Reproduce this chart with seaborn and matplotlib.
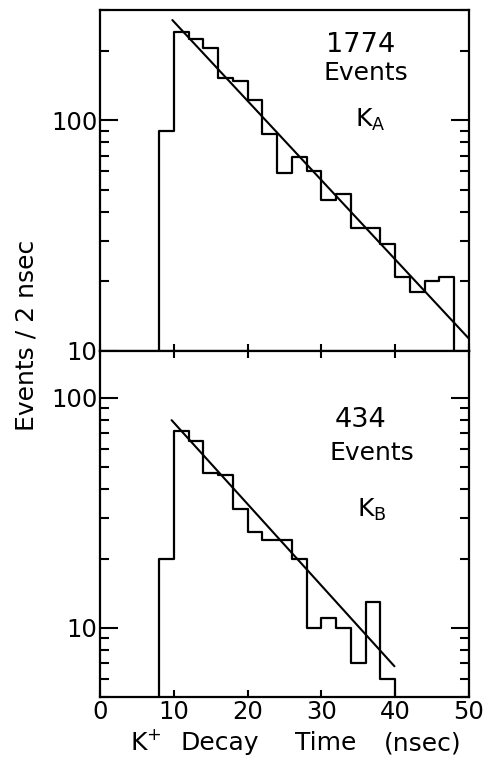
import numpy as np
import pandas as pd
import matplotlib
matplotlib.use("Agg")
import matplotlib.pyplot as plt
import seaborn as sns

# K+ decay time histograms, counts per 2 nsec bin
edges_a = list(range(6, 52, 2))        # 6 .. 50 nsec
counts_a = [0, 90, 240, 225, 205, 152, 148, 122, 87, 59, 69,
            60, 45, 48, 34, 34, 29, 21, 18, 20, 21, 0]
edges_b = list(range(6, 44, 2))        # 6 .. 42 nsec
counts_b = [0, 20, 72, 65, 47, 46, 33, 26, 24, 24, 20,
            10, 11, 10, 7, 13, 6, 0]

# exponential fit lines (end points)
fit_a_t = [9.8, 50.0]
fit_a_n = [271, 11.3]
fit_b_t = [9.7, 39.9]
fit_b_n = [80, 6.8]

xticks = [0, 10, 20, 30, 40, 50]
xtick_labels = ["0", "10", "20", "30", "40", "50"]
yticks = [10, 100]
ytick_labels = ["10", "100"]

sns.set_style("ticks")
plt.rcParams["font.family"] = ["DejaVu Sans"]
plt.rcParams["text.color"] = "black"

fig = plt.figure(figsize=(4.88, 7.58), dpi=100)
ax1 = fig.add_axes([0.205, 0.537, 0.756, 0.450])
ax2 = fig.add_axes([0.205, 0.0805, 0.756, 0.4565])

# panel text: label, size, x / baseline y in axes fraction
panels = [
    (ax1, edges_a, counts_a, fit_a_t, fit_a_n, (10, 300),
     [("1774", 19.5, 0.707, 0.877), ("Events", 18, 0.721, 0.795),
      (r"K$_\mathrm{A}$", 18, 0.732, 0.657)]),
    (ax2, edges_b, counts_b, fit_b_t, fit_b_n, (5, 160),
     [("434", 19.5, 0.705, 0.780), ("Events", 18, 0.736, 0.685),
      (r"K$_\mathrm{B}$", 18, 0.737, 0.520)]),
]

for ax, edges, counts, ft, fn, ylim, texts in panels:
    df = pd.DataFrame({"t": np.array(edges[:-1]) + 1, "n": counts})
    sns.histplot(data=df, x="t", weights="n", bins=edges, element="step", fill=False,
                 color="black", linewidth=1.6, ax=ax)
    sns.lineplot(x=ft, y=fn, color="black", linewidth=1.5, ax=ax)
    ax.set_yscale("log")
    ax.set_xlim(0, 50)
    ax.set_ylim(*ylim)
    ax.set_yticks(yticks, labels=ytick_labels)
    ax.yaxis.set_minor_formatter(matplotlib.ticker.NullFormatter())
    ax.set_xticks(xticks, labels=xtick_labels)
    ax.set_xlabel("")
    ax.set_ylabel("")
    for s in ax.spines.values():
        s.set_visible(True)
        s.set_linewidth(1.6)
        s.set_color("black")
    ax.tick_params(axis="y", which="both", direction="in", left=True, right=True,
                   width=1.5, labelsize=17.5, pad=2, colors="black")
    ax.tick_params(axis="y", which="major", length=13)
    ax.tick_params(axis="y", which="minor", length=6.5)
    ax.tick_params(axis="x", which="major", direction="in", length=5, width=1.5,
                   labelsize=17.5, pad=2, colors="black")
    ax.tick_params(axis="x", which="minor", bottom=False, top=False)
    for t, size, px, py in texts:
        ax.text(px, py, t, transform=ax.transAxes, ha="center", va="baseline", fontsize=size)

ax1.tick_params(axis="x", top=False, bottom=True, labelbottom=False)
ax2.tick_params(axis="x", top=True, bottom=True, labelbottom=True)

fig.text(27 / 488, 1 - 335 / 758, "Events / 2 nsec", rotation=90, ha="center", va="center",
         fontsize=18)

# x axis title, words spaced as in the original lettering
xlabel_words = ["K$^{+}$", "Decay", "Time", "(nsec)"]
xlabel_centers = [146, 220, 326, 423]
for w, cx in zip(xlabel_words, xlabel_centers):
    fig.text(cx / 488, 1 - 750 / 758, w, ha="center", va="baseline", fontsize=18)

fig.savefig("out.png", dpi=100, facecolor="white")
